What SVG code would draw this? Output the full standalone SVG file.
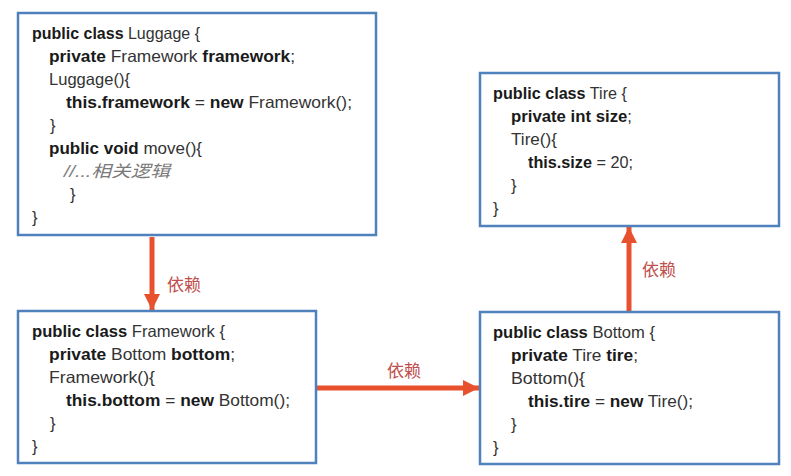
<svg xmlns="http://www.w3.org/2000/svg" width="791" height="476" viewBox="0 0 791 476">
<defs>
<style>
.box{fill:#ffffff;stroke:#4f81bd;stroke-width:2.5}
.code{font-family:"Liberation Sans","Noto Sans CJK SC",sans-serif;font-size:16.5px;fill:#333333}
.b{font-weight:bold;fill:#1a1a1a}
.cm{font-style:italic;fill:#7a7a7a}
.wire{stroke:#e8512e;stroke-width:5;fill:none}
.lbl{font-family:"Noto Sans CJK SC","Liberation Sans",sans-serif;font-size:17px;fill:#c0504d}
</style>
<marker id="ah" viewBox="0 0 10 10" refX="10" refY="5" markerUnits="userSpaceOnUse" markerWidth="16" markerHeight="22" orient="auto">
<path d="M0,0 L10,5 L0,10 z" fill="#e8512e"/>
</marker>
</defs>
<rect width="791" height="476" fill="#ffffff"/>

<g id="connectors">
<line class="wire" x1="152" y1="237" x2="152" y2="310" marker-end="url(#ah)"/>
<line class="wire" x1="317" y1="388" x2="479" y2="388" marker-end="url(#ah)"/>
<line class="wire" x1="629" y1="311" x2="629" y2="227" marker-end="url(#ah)"/>
<text class="lbl" x="167" y="291">依赖</text>
<text class="lbl" x="387" y="377">依赖</text>
<text class="lbl" x="642" y="276">依赖</text>
</g>

<g id="luggage">
<rect class="box" x="18" y="13" width="358" height="222"/>
<text class="code" x="32" y="39" textLength="168" lengthAdjust="spacingAndGlyphs"><tspan class="b">public class</tspan> Luggage {</text>
<text class="code" x="49" y="62" textLength="246" lengthAdjust="spacingAndGlyphs"><tspan class="b">private</tspan> Framework <tspan class="b">framework</tspan>;</text>
<text class="code" x="49" y="85" textLength="81" lengthAdjust="spacingAndGlyphs">Luggage(){</text>
<text class="code" x="66" y="108" textLength="286" lengthAdjust="spacingAndGlyphs"><tspan class="b">this.framework</tspan> = <tspan class="b">new</tspan> Framework();</text>
<text class="code" x="50" y="131">}</text>
<text class="code" x="49" y="154" textLength="153" lengthAdjust="spacingAndGlyphs"><tspan class="b">public void</tspan> move(){</text>
<text class="code cm" x="64" y="177" textLength="106" lengthAdjust="spacingAndGlyphs">//...相关逻辑</text>
<text class="code" x="70" y="200">}</text>
<text class="code" x="32" y="223">}</text>
</g>

<g id="framework">
<rect class="box" x="18" y="311" width="298" height="152"/>
<text class="code" x="32" y="337" textLength="193" lengthAdjust="spacingAndGlyphs"><tspan class="b">public class</tspan> Framework {</text>
<text class="code" x="49" y="360" textLength="186" lengthAdjust="spacingAndGlyphs"><tspan class="b">private</tspan> Bottom <tspan class="b">bottom</tspan>;</text>
<text class="code" x="49" y="383" textLength="106" lengthAdjust="spacingAndGlyphs">Framework(){</text>
<text class="code" x="66" y="406" textLength="224" lengthAdjust="spacingAndGlyphs"><tspan class="b">this.bottom</tspan> = <tspan class="b">new</tspan> Bottom();</text>
<text class="code" x="50" y="429">}</text>
<text class="code" x="32" y="452">}</text>
</g>

<g id="tire">
<rect class="box" x="480" y="73" width="299" height="153"/>
<text class="code" x="493" y="99" textLength="134" lengthAdjust="spacingAndGlyphs"><tspan class="b">public class</tspan> Tire {</text>
<text class="code" x="511" y="122" textLength="121" lengthAdjust="spacingAndGlyphs"><tspan class="b">private int size</tspan>;</text>
<text class="code" x="511" y="145" textLength="46" lengthAdjust="spacingAndGlyphs">Tire(){</text>
<text class="code" x="528" y="168" textLength="105" lengthAdjust="spacingAndGlyphs"><tspan class="b">this.size</tspan> = 20;</text>
<text class="code" x="511" y="191">}</text>
<text class="code" x="493" y="214">}</text>
</g>

<g id="bottom">
<rect class="box" x="480" y="312" width="299" height="152"/>
<text class="code" x="493" y="338" textLength="162" lengthAdjust="spacingAndGlyphs"><tspan class="b">public class</tspan> Bottom {</text>
<text class="code" x="511" y="361" textLength="127" lengthAdjust="spacingAndGlyphs"><tspan class="b">private</tspan> Tire <tspan class="b">tire</tspan>;</text>
<text class="code" x="511" y="384" textLength="74" lengthAdjust="spacingAndGlyphs">Bottom(){</text>
<text class="code" x="528" y="407" textLength="165" lengthAdjust="spacingAndGlyphs"><tspan class="b">this.tire</tspan> = <tspan class="b">new</tspan> Tire();</text>
<text class="code" x="511" y="430">}</text>
<text class="code" x="493" y="453">}</text>
</g>
</svg>
